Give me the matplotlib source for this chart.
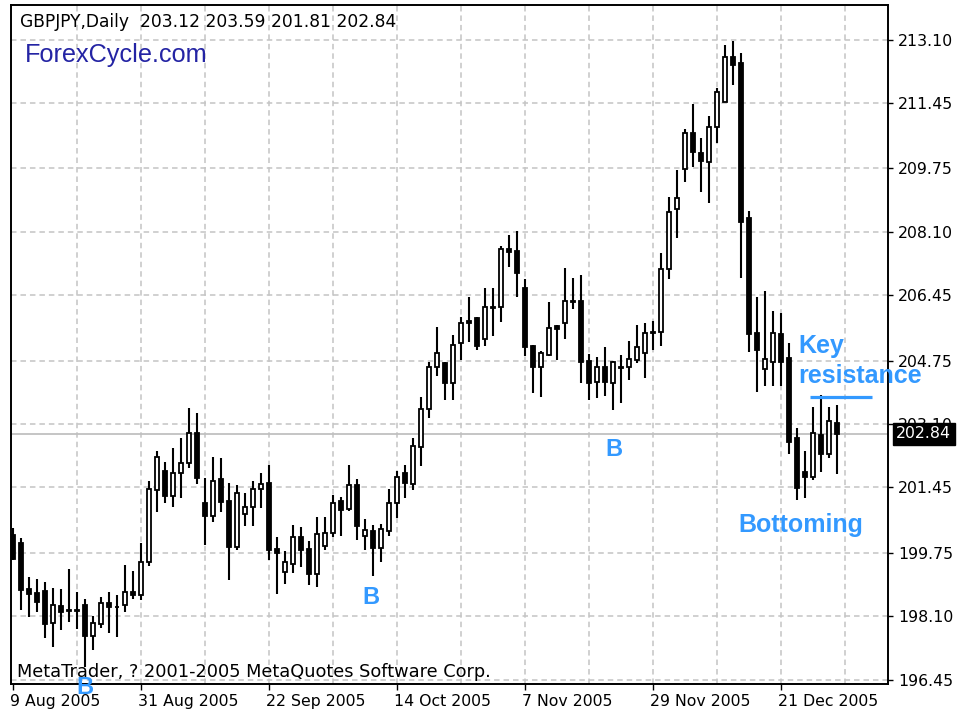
import matplotlib
matplotlib.use("Agg")
import matplotlib.pyplot as plt
import matplotlib.transforms as mtransforms
import numpy as np

# ---------------- data (GBPJPY daily, 9 Aug 2005 .. end Dec 2005) ----------------
opens = [200.21, 200.00, 198.80, 198.70, 198.75, 197.92, 198.36, 198.27, 198.26, 198.39,
         197.58, 197.90, 198.44, 198.34, 198.39, 198.73, 198.65, 199.52, 201.38, 201.88,
         201.23, 201.82, 202.08, 202.87, 201.04, 200.71, 201.66, 201.10, 199.89, 200.77,
         200.93, 201.40, 201.56, 199.84, 199.26, 199.46, 200.15, 199.84, 199.20, 199.93,
         200.26, 201.10, 200.88, 201.51, 200.19, 200.32, 199.87, 200.32, 201.04, 201.83,
         201.54, 202.49, 203.48, 204.59, 204.69, 204.16, 205.20, 205.78, 205.85, 205.30,
         206.14, 206.14, 207.64, 207.61, 206.63, 205.13, 204.57, 204.89, 205.65, 205.72,
         206.31, 206.31, 204.75, 204.20, 204.57, 204.16, 204.57, 204.57, 204.76, 204.94,
         205.50, 205.50, 207.12, 208.68, 209.73, 210.68, 210.16, 209.92, 210.82, 211.48,
         212.65, 212.48, 208.45, 205.47, 204.52, 204.72, 205.44, 204.81, 202.73, 201.86,
         201.71, 202.81, 202.32, 203.12]
highs = [200.39, 200.13, 199.12, 199.07, 198.99, 198.83, 198.81, 199.33, 198.73, 198.55,
         198.10, 198.60, 198.73, 198.65, 199.43, 199.28, 200.00, 201.62, 202.40, 202.12,
         202.47, 202.73, 203.51, 203.39, 201.69, 202.25, 202.21, 201.56, 201.51, 201.30,
         201.62, 201.83, 202.03, 200.17, 199.80, 200.47, 200.43, 200.06, 200.69, 200.69,
         201.25, 201.21, 202.03, 201.66, 200.62, 200.47, 200.50, 201.40, 201.89, 202.03,
         202.73, 203.81, 204.72, 205.63, 204.72, 205.41, 205.89, 206.41, 205.89, 206.63,
         206.63, 207.73, 208.02, 208.13, 206.86, 205.15, 205.01, 206.28, 205.67, 207.15,
         206.89, 206.98, 204.92, 204.85, 205.11, 204.75, 204.90, 205.27, 205.67, 205.73,
         205.79, 207.56, 209.01, 209.71, 210.77, 211.42, 210.53, 211.11, 211.83, 212.96,
         213.07, 212.76, 208.65, 206.41, 206.57, 206.05, 205.99, 205.21, 202.99, 202.40,
         203.55, 203.85, 203.55, 203.59]
lows = [199.56, 198.26, 198.08, 198.21, 197.53, 197.30, 197.74, 197.95, 197.77, 196.78,
        197.22, 197.79, 197.66, 197.56, 198.21, 198.55, 198.52, 199.41, 200.82, 201.05,
        200.95, 201.17, 201.95, 201.54, 199.95, 200.56, 200.82, 199.04, 199.82, 200.45,
        200.45, 200.91, 199.56, 198.69, 198.95, 199.23, 199.39, 198.91, 198.87, 199.82,
        200.17, 200.19, 200.84, 200.08, 199.82, 199.15, 199.52, 200.19, 200.65, 201.17,
        201.38, 202.01, 203.25, 204.35, 203.72, 203.72, 204.76, 205.24, 205.02, 205.13,
        205.39, 205.76, 207.18, 206.40, 204.87, 203.90, 203.79, 204.87, 204.76, 205.30,
        206.08, 204.16, 203.72, 203.77, 203.83, 203.46, 203.64, 204.24, 204.68, 204.29,
        205.02, 205.13, 206.86, 207.93, 209.40, 209.78, 209.14, 208.84, 210.40, 211.48,
        211.92, 206.89, 204.98, 203.94, 204.09, 204.09, 204.09, 202.32, 201.12, 201.17,
        201.64, 201.86, 202.21, 201.81]
closes = [199.58, 198.78, 198.68, 198.47, 197.90, 198.39, 198.21, 198.24, 198.24, 197.58,
          197.92, 198.44, 198.34, 198.33, 198.73, 198.64, 199.51, 201.40, 202.25, 201.23,
          201.82, 202.09, 202.87, 201.69, 200.71, 201.62, 201.08, 199.89, 201.30, 200.93,
          201.40, 201.54, 199.82, 199.74, 199.52, 200.15, 199.82, 199.20, 200.25, 200.26,
          201.04, 200.86, 201.51, 200.45, 200.34, 199.87, 200.36, 201.05, 201.73, 201.56,
          202.53, 203.48, 204.59, 204.94, 204.16, 205.15, 205.72, 205.72, 205.13, 206.14,
          206.12, 207.64, 207.58, 207.02, 205.09, 204.57, 204.95, 205.59, 205.56, 206.31,
          206.28, 204.72, 204.16, 204.57, 204.20, 204.72, 204.55, 204.78, 205.11, 205.46,
          205.47, 207.12, 208.62, 208.99, 210.68, 210.18, 209.95, 210.83, 211.74, 212.65,
          212.44, 208.36, 205.44, 205.02, 204.78, 205.47, 204.72, 202.64, 201.43, 201.71,
          202.87, 202.32, 203.19, 202.84]

date_labels = ["9 Aug 2005", "31 Aug 2005", "22 Sep 2005", "14 Oct 2005",
               "7 Nov 2005", "29 Nov 2005", "21 Dec 2005"]
price_ticks = [196.45, 198.10, 199.75, 201.45, 203.10, 204.75,
               206.45, 208.10, 209.75, 211.45, 213.10]

symbol = "GBPJPY,Daily"
last_ohlc = [203.12, 203.59, 201.81, 202.84]

# ---------------- figure ----------------
W, H = 958, 717
fig = plt.figure(figsize=(W / 100, H / 100), dpi=100)
fig.patch.set_facecolor("white")

def fx(px):
    return px / W

def fy(py):
    return 1 - py / H

ax = fig.add_axes([fx(10.7), fy(684), (888.3 - 10.7) / W, (684 - 5) / H])
ax.set_facecolor("white")

n = len(opens)
xs = np.arange(n)
o = np.array(opens); h = np.array(highs); l = np.array(lows); c = np.array(closes)

ax.set_xlim(-0.29, 109.41)
ax.set_ylim(196.336, 214.00)

# grid
grid_kw = dict(color="#c4c4c4", linewidth=1.1, linestyle=(0, (3.6, 2.6)))
major_x = np.arange(0, n, 16)
minor_x = np.arange(8, 110, 8)
for gx in minor_x:
    ax.axvline(gx, zorder=0.5, **grid_kw)
for gy in price_ticks:
    ax.axhline(gy, zorder=0.5, **grid_kw)

# current price line
ax.axhline(closes[-1], color="#c0c0c0", linewidth=1.3, zorder=0.8)

# candles
ax.vlines(xs, l, h, color="black", linewidth=1.5, zorder=2)
bottoms = np.minimum(o, c)
heights = np.maximum(np.abs(c - o), 0.004)
fills = ["white" if cc >= oo else "black" for oo, cc in zip(o, c)]
ax.bar(xs, heights, bottom=bottoms, width=0.6, color=fills,
       edgecolor="black", linewidth=1.3, zorder=3)

# spines
for s in ax.spines.values():
    s.set_color("black")
    s.set_linewidth(1.4)

# y axis on the right
ax.yaxis.tick_right()
ax.set_yticks(price_ticks)
ax.set_yticklabels([f"{v:.2f}" for v in price_ticks])
ax.tick_params(axis="y", direction="out", length=3.6, width=1.0, pad=3.4,
               labelsize=11.3, colors="black")

# x axis
ax.set_xticks(major_x)
ax.set_xticklabels(date_labels)
ax.tick_params(axis="x", direction="out", length=4.3, width=1.0, pad=3.0,
               labelsize=11.3, colors="black")
offset = mtransforms.ScaledTranslation(-3 / 100, 0, fig.dpi_scale_trans)
for lab in ax.get_xticklabels():
    lab.set_horizontalalignment("left")
    lab.set_transform(lab.get_transform() + offset)

# current price box
trans = mtransforms.blended_transform_factory(ax.transAxes, ax.transData)
ax.text(1.0 + 8.0 / 877.6, closes[-1], f"{closes[-1]:.2f}", transform=trans,
        ha="left", va="center", color="white", fontsize=11.3, zorder=10,
        clip_on=False,
        bbox=dict(boxstyle="square,pad=0.22", facecolor="black", edgecolor="black"))

# header texts
header = symbol + "  " + " ".join(f"{v:.2f}" for v in last_ohlc)
fig.text(fx(20), fy(26.7), header, fontsize=12.3, color="black",
         ha="left", va="baseline", family="DejaVu Sans")
fig.text(fx(25), fy(61.7), "ForexCycle.com", fontsize=18.2, color="#2424a4",
         ha="left", va="baseline", family="Liberation Sans")
fig.text(fx(17), fy(677.3), "MetaTrader, ? 2001-2005 MetaQuotes Software Corp.",
         fontsize=12.8, color="black", ha="left", va="baseline", family="DejaVu Sans")

# annotations
blue = "#3399ff"
ann_kw = dict(color=blue, fontweight="bold", family="Liberation Sans", zorder=12)
fig.text(fx(798), fy(353.3), "Key", fontsize=18, ha="left", va="baseline", **ann_kw)
fig.text(fx(798), fy(383), "resistance", fontsize=18, ha="left", va="baseline", **ann_kw)
fig.text(fx(738), fy(531.7), "Bottoming", fontsize=18, ha="left", va="baseline", **ann_kw)
for bx, by in [(85, 688), (370.5, 598), (613.5, 450)]:
    fig.text(fx(bx), fy(by), "B", fontsize=17, ha="center", va="center", **ann_kw)

ax.plot([99.6, 107.4], [203.80, 203.80], color=blue, linewidth=2.3, zorder=6,
        solid_capstyle="butt")

fig.savefig("out.png", dpi=100, facecolor="white")
